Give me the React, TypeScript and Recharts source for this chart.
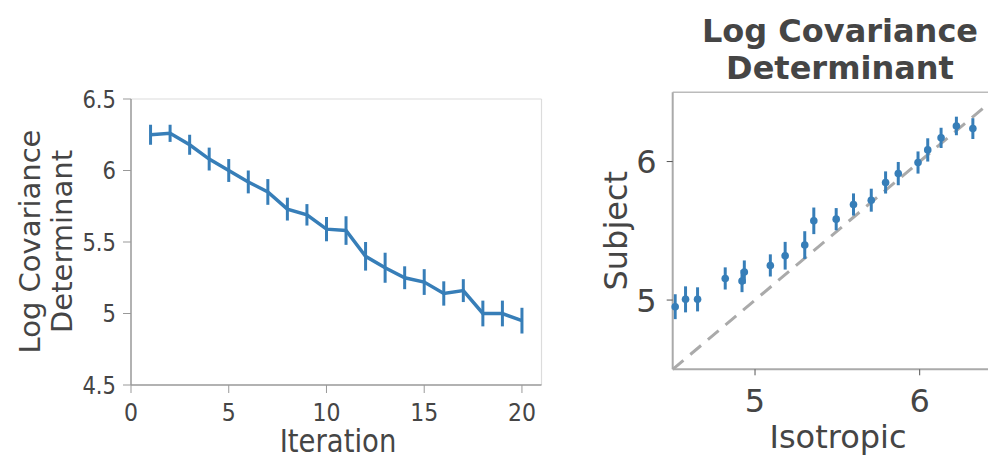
import {
  LineChart,
  Line,
  ScatterChart,
  Scatter,
  XAxis,
  YAxis,
  ErrorBar,
  ReferenceLine,
  Label,
} from 'recharts';

const iterations = [1, 2, 3, 4, 5, 6, 7, 8, 9, 10, 11, 12, 13, 14, 15, 16, 17, 18, 19, 20];
const logDet = [6.25, 6.26, 6.18, 6.08, 6.0, 5.92, 5.85, 5.73, 5.69, 5.59, 5.58, 5.4, 5.32, 5.25, 5.22, 5.14, 5.16, 5.0, 5.0, 4.95];
const logDetErr = [0.07, 0.06, 0.07, 0.08, 0.08, 0.08, 0.09, 0.08, 0.075, 0.085, 0.1, 0.1, 0.105, 0.08, 0.09, 0.085, 0.08, 0.09, 0.09, 0.09];

const isotropic = [4.515, 4.578, 4.651, 4.819, 4.921, 4.935, 5.093, 5.183, 5.302, 5.357, 5.493, 5.598, 5.706, 5.793, 5.87, 5.99, 6.049, 6.13, 6.223, 6.323];
const subject = [4.952, 5.005, 5.005, 5.156, 5.137, 5.202, 5.25, 5.32, 5.397, 5.572, 5.584, 5.69, 5.721, 5.849, 5.913, 5.993, 6.084, 6.171, 6.257, 6.238];
const subjectErr = [0.09, 0.094, 0.087, 0.08, 0.08, 0.084, 0.08, 0.1, 0.1, 0.096, 0.08, 0.08, 0.083, 0.08, 0.084, 0.08, 0.084, 0.073, 0.067, 0.075];

const iterTicks = [0, 5, 10, 15, 20];
const logDetTicks = [4.5, 5, 5.5, 6, 6.5];
const scatterTicks = [5, 6];

const BLUE = '#377eb8';
const TEXT = '#454545';
const FONT = '"DejaVu Sans", sans-serif';

const lineData = iterations.map((it, i) => ({ iter: it, det: logDet[i], err: logDetErr[i] }));
const scatterData = isotropic.map((x, i) => ({ iso: x, subj: subject[i], err: subjectErr[i] }));

// left panel text is a bit narrower than the right one
function LeftYTick({ x, y, payload }: any) {
  return (
    <text transform={`translate(${x},${y + 8.5}) scale(0.88,1)`} textAnchor="end" fontSize={24} fontFamily={FONT} fill={TEXT}>
      {payload.value}
    </text>
  );
}

function LeftXTick({ x, y, payload }: any) {
  return (
    <text transform={`translate(${x},${y + 28}) scale(0.88,1)`} textAnchor="middle" fontSize={25} fontFamily={FONT} fill={TEXT}>
      {payload.value}
    </text>
  );
}

function RightYTick({ x, y, payload }: any) {
  return (
    <text x={x} y={y + 11.5} textAnchor="end" fontSize={32} fontFamily={FONT} fill={TEXT}>
      {payload.value}
    </text>
  );
}

function RightXTick({ x, y, payload }: any) {
  return (
    <text x={x} y={y + 37} textAnchor="middle" fontSize={32} fontFamily={FONT} fill={TEXT}>
      {payload.value}
    </text>
  );
}

const Dot = ({ cx, cy }: any) => <circle cx={cx} cy={cy} r={3.8} fill={BLUE} />;

export default function App() {
  return (
    <div style={{ position: 'absolute', left: 0, top: 0, width: 988, height: 456, overflow: 'hidden', background: '#fff' }}>
      <div style={{ position: 'absolute', left: 0, top: 0 }}>
        <LineChart width={560} height={456} data={lineData} margin={{ top: 99, right: 18.5, bottom: 0, left: 0 }}>
          <XAxis
            dataKey="iter"
            type="number"
            domain={[0, 21]}
            ticks={iterTicks}
            height={71}
            tickSize={8}
            tickMargin={0}
            axisLine={{ stroke: '#999', strokeWidth: 1.5 }}
            tickLine={{ stroke: '#999' }}
            tick={<LeftXTick />}
          >
            <Label
              content={() => (
                <text transform="translate(338,451.5) scale(0.86,1)" textAnchor="middle" fontSize={32} fontFamily={FONT} fill={TEXT}>
                  Iteration
                </text>
              )}
            />
          </XAxis>
          <YAxis
            type="number"
            domain={[4.5, 6.5]}
            ticks={logDetTicks}
            width={131}
            tickSize={8}
            tickMargin={7}
            axisLine={{ stroke: '#999', strokeWidth: 1.5 }}
            tickLine={{ stroke: '#999' }}
            tick={<LeftYTick />}
          >
            <Label
              content={() => (
                <text transform="translate(0,241.5) rotate(-90)" textAnchor="middle" fontSize={29} fontFamily={FONT} fill={TEXT}>
                  <tspan x={0} y={40}>Log Covariance</tspan>
                  <tspan x={0} y={71.5}>Determinant</tspan>
                </text>
              )}
            />
          </YAxis>
          <ReferenceLine y={6.5} stroke="#dcdcdc" strokeWidth={1.2} />
          <ReferenceLine x={21} stroke="#dcdcdc" strokeWidth={1.2} />
          <Line type="linear" dataKey="det" stroke={BLUE} strokeWidth={3.5} dot={false} isAnimationActive={false}>
            <ErrorBar dataKey="err" direction="y" width={0} stroke={BLUE} strokeWidth={3} isAnimationActive={false} />
          </Line>
        </LineChart>
      </div>

      <div style={{ position: 'absolute', left: 590, top: 0 }}>
        <ScatterChart width={420} height={456} margin={{ top: 92.3, right: 8, bottom: 0, left: 0 }}>
          <XAxis
            dataKey="iso"
            type="number"
            domain={[4.5, 6.5]}
            ticks={scatterTicks}
            height={86.7}
            tickSize={6}
            tickMargin={0}
            axisLine={{ stroke: '#aaa', strokeWidth: 2 }}
            tickLine={{ stroke: '#555' }}
            tick={<RightXTick />}
          >
            <Label
              content={() => (
                <g>
                  <text x={248} y={448} textAnchor="middle" fontSize={32} fontFamily={FONT} fill={TEXT}>
                    Isotropic
                  </text>
                  <text textAnchor="middle" fontSize={32} fontWeight="bold" fontFamily={FONT} fill={TEXT}>
                    <tspan x={250} y={41.5}>Log Covariance</tspan>
                    <tspan x={250} y={78.5}>Determinant</tspan>
                  </text>
                </g>
              )}
            />
          </XAxis>
          <YAxis
            dataKey="subj"
            type="number"
            domain={[4.5, 6.5]}
            ticks={scatterTicks}
            width={82.7}
            tickSize={6}
            tickMargin={10}
            axisLine={{ stroke: '#aaa', strokeWidth: 2 }}
            tickLine={{ stroke: '#555' }}
            tick={<RightYTick />}
          >
            <Label
              content={() => (
                <text transform="translate(0,230.7) rotate(-90)" textAnchor="middle" fontSize={32} fontFamily={FONT} fill={TEXT}>
                  <tspan x={0} y={36.5}>Subject</tspan>
                </text>
              )}
            />
          </YAxis>
          <ReferenceLine y={6.5} stroke="#bbb" strokeWidth={1.5} />
          <ReferenceLine
            segment={[
              { x: 4.5, y: 4.5 },
              { x: 6.5, y: 6.5 },
            ]}
            stroke="#aaaaaa"
            strokeWidth={3}
            strokeDasharray="14 9"
          />
          <Scatter data={scatterData} fill={BLUE} shape={<Dot />} isAnimationActive={false}>
            <ErrorBar dataKey="err" direction="y" width={0} stroke={BLUE} strokeWidth={3} isAnimationActive={false} />
          </Scatter>
        </ScatterChart>
      </div>
    </div>
  );
}
